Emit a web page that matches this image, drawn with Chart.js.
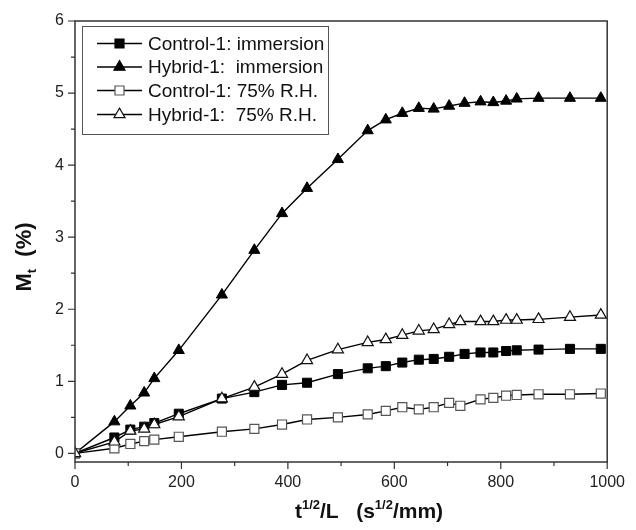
<!DOCTYPE html>
<html>
<head>
<meta charset="utf-8">
<script src="https://cdn.jsdelivr.net/npm/chart.js@4.4.1/dist/chart.umd.min.js"></script>
<style>
  html, body { margin: 0; padding: 0; background: #fff; }
  #wrap { width: 636px; height: 530px; }
</style>
</head>
<body>
<div id="wrap"><canvas id="chart"></canvas></div>
<script>
// x positions (t^1/2 / L) of the measurements
const xImmersion = [0, 74, 104, 130, 149, 195, 276, 337, 389, 436, 494, 550, 584, 615, 646, 674, 703, 732, 762, 786, 810, 830, 871, 930, 988];
const xHumid     = [0, 74, 104, 130, 149, 195, 276, 337, 389, 436, 494, 550, 584, 615, 646, 674, 703, 724, 762, 786, 810, 830, 871, 930, 988];

// Mt (%) values
const controlImmersion = [0, 0.22, 0.33, 0.37, 0.42, 0.55, 0.76, 0.85, 0.95, 0.98, 1.10, 1.18, 1.21, 1.26, 1.30, 1.31, 1.34, 1.38, 1.40, 1.40, 1.42, 1.43, 1.44, 1.45, 1.45];
const hybridImmersion  = [0, 0.44, 0.66, 0.84, 1.04, 1.43, 2.20, 2.82, 3.33, 3.68, 4.08, 4.48, 4.63, 4.72, 4.79, 4.78, 4.82, 4.86, 4.88, 4.87, 4.89, 4.92, 4.93, 4.93, 4.93];
const controlHumid     = [0, 0.07, 0.13, 0.17, 0.19, 0.23, 0.30, 0.34, 0.40, 0.47, 0.50, 0.54, 0.59, 0.64, 0.61, 0.64, 0.70, 0.66, 0.75, 0.77, 0.80, 0.81, 0.82, 0.82, 0.83];
const hybridHumid      = [0, 0.16, 0.31, 0.34, 0.40, 0.51, 0.76, 0.92, 1.10, 1.29, 1.44, 1.54, 1.58, 1.64, 1.70, 1.72, 1.79, 1.83, 1.83, 1.83, 1.85, 1.85, 1.86, 1.89, 1.92];

const seriesLabels = ['Control-1: immersion', 'Hybrid-1:  immersion', 'Control-1: 75% R.H.', 'Hybrid-1:  75% R.H.'];
const xTicks = [0, 200, 400, 600, 800, 1000];
const yTicks = [0, 1, 2, 3, 4, 5, 6];

const FONT = "'Liberation Sans', Arial, sans-serif";

const pts = (xs, ys) => xs.map((x, i) => ({ x: x, y: ys[i] }));

// legend styles (same as datasets)
const legendStyles = [
  { shape: 'rect', fill: '#000', stroke: '#000' },
  { shape: 'triangle', fill: '#000', stroke: '#000' },
  { shape: 'rect', fill: '#fff', stroke: '#555' },
  { shape: 'triangle', fill: '#fff', stroke: '#111' }
];

function marker(ctx, s, x, y) {
  ctx.save();
  ctx.fillStyle = s.fill;
  ctx.strokeStyle = s.stroke;
  ctx.lineWidth = 1.2;
  ctx.beginPath();
  if (s.shape === 'rect') {
    ctx.rect(x - 4.5, y - 4.5, 9, 9);
  } else {
    const r = 6.4;
    ctx.moveTo(x, y - r);
    ctx.lineTo(x + r * 0.866, y + r * 0.5);
    ctx.lineTo(x - r * 0.866, y + r * 0.5);
    ctx.closePath();
  }
  ctx.fill();
  ctx.stroke();
  ctx.restore();
}

const decorations = {
  id: 'decorations',
  afterDraw(chart) {
    const ctx = chart.ctx;
    const a = chart.chartArea;
    const xs = chart.scales.x, ys = chart.scales.y;
    ctx.save();
    // frame
    ctx.strokeStyle = '#333';
    ctx.lineWidth = 1.5;
    ctx.strokeRect(a.left, a.top, a.right - a.left, a.bottom - a.top);
    // ticks
    ctx.lineWidth = 1.2;
    ctx.beginPath();
    for (let v = 0; v <= 1000; v += 100) {
      const px = xs.getPixelForValue(v);
      const len = v % 200 === 0 ? 7 : 4;
      ctx.moveTo(px, a.bottom);
      ctx.lineTo(px, a.bottom + len);
    }
    for (let v = 0; v <= 6; v += 0.5) {
      const py = ys.getPixelForValue(v);
      const len = v % 1 === 0 ? 7 : 4;
      ctx.moveTo(a.left, py);
      ctx.lineTo(a.left - len, py);
    }
    ctx.stroke();

    // legend
    const bx = 82, by = 26, bw = 246, bh = 108;
    ctx.strokeStyle = '#555';
    ctx.lineWidth = 1;
    ctx.strokeRect(bx + 0.5, by + 0.5, bw, bh);
    const rowsY = [43.5, 67, 90.5, 114.5];
    ctx.font = '19px ' + FONT;
    ctx.textBaseline = 'middle';
    ctx.textAlign = 'left';
    seriesLabels.forEach((lab, i) => {
      const y = rowsY[i];
      ctx.strokeStyle = '#000';
      ctx.lineWidth = 1.4;
      ctx.beginPath();
      ctx.moveTo(97, y);
      ctx.lineTo(142, y);
      ctx.stroke();
      marker(ctx, legendStyles[i], 119.5, y);
      ctx.fillStyle = '#111';
      ctx.fillText(lab, 148, y + 1);
    });

    // x title with superscripts
    ctx.fillStyle = '#111';
    ctx.textBaseline = 'alphabetic';
    const big = 'bold 21px ' + FONT, small = 'bold 13px ' + FONT;
    const parts = [['t', big, 0], ['1/2', small, -9], ['/L   (s', big, 0], ['1/2', small, -9], ['/mm)', big, 0]];
    let total = 0;
    parts.forEach(p => { ctx.font = p[1]; total += ctx.measureText(p[0]).width; });
    let cx = 369 - total / 2;
    const base = 518;
    parts.forEach(p => {
      ctx.font = p[1];
      ctx.fillText(p[0], cx, base + p[2]);
      cx += ctx.measureText(p[0]).width;
    });

    // y title with subscript
    ctx.translate(31, 257);
    ctx.rotate(-Math.PI / 2);
    const yparts = [['M', 'bold 22px ' + FONT, 0], ['t', 'bold 13px ' + FONT, 5], ['  (%)', 'bold 22px ' + FONT, 0]];
    total = 0;
    yparts.forEach(p => { ctx.font = p[1]; total += ctx.measureText(p[0]).width; });
    cx = -total / 2;
    yparts.forEach(p => {
      ctx.font = p[1];
      ctx.fillText(p[0], cx, p[2]);
      cx += ctx.measureText(p[0]).width;
    });
    ctx.restore();
  }
};

const lineColor = '#000';

new Chart(document.getElementById('chart'), {
  type: 'scatter',
  data: {
    datasets: [
      {
        label: seriesLabels[3], data: pts(xHumid, hybridHumid), showLine: true,
        borderColor: lineColor, borderWidth: 1.4, pointStyle: 'triangle', pointRadius: 6.4,
        pointBackgroundColor: '#fff', pointBorderColor: '#111', pointBorderWidth: 1.2
      },
      {
        label: seriesLabels[2], data: pts(xHumid, controlHumid), showLine: true,
        borderColor: lineColor, borderWidth: 1.4, pointStyle: 'rect', pointRadius: 6.4,
        pointBackgroundColor: '#fff', pointBorderColor: '#555', pointBorderWidth: 1.2
      },
      {
        label: seriesLabels[0], data: pts(xImmersion, controlImmersion), showLine: true,
        borderColor: lineColor, borderWidth: 1.4, pointStyle: 'rect', pointRadius: 6.4,
        pointBackgroundColor: '#000', pointBorderColor: '#000', pointBorderWidth: 1
      },
      {
        label: seriesLabels[1], data: pts(xImmersion, hybridImmersion), showLine: true,
        borderColor: lineColor, borderWidth: 1.4, pointStyle: 'triangle', pointRadius: 6.4,
        pointBackgroundColor: '#000', pointBorderColor: '#000', pointBorderWidth: 1
      }
    ]
  },
  options: {
    responsive: true,
    maintainAspectRatio: false,
    animation: false,
    layout: { padding: { left: 0, top: 21, right: 19, bottom: 0 } },
    plugins: { legend: { display: false }, tooltip: { enabled: false } },
    scales: {
      x: {
        type: 'linear', min: 0, max: 1000,
        afterBuildTicks: s => { s.ticks = xTicks.map(v => ({ value: v })); },
        afterFit: s => { s.height = 68; },
        grid: { display: false, drawTicks: false },
        border: { display: false },
        ticks: { font: { size: 16, family: FONT }, color: '#222', padding: 11, maxRotation: 0, callback: v => String(v) }
      },
      y: {
        type: 'linear', min: -0.12, max: 6,
        afterBuildTicks: s => { s.ticks = yTicks.map(v => ({ value: v })); },
        afterFit: s => { s.width = 75; },
        grid: { display: false, drawTicks: false },
        border: { display: false },
        ticks: { font: { size: 16, family: FONT }, color: '#222', padding: 11, callback: v => String(v) }
      }
    }
  },
  plugins: [decorations]
});
</script>
</body>
</html>
